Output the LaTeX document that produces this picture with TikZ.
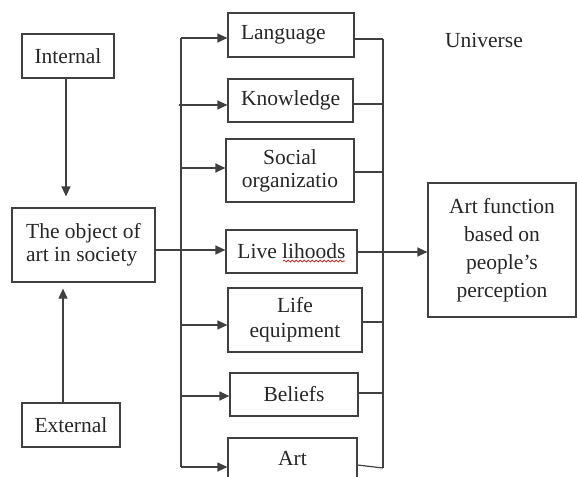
\documentclass[tikz,border=0pt]{standalone}
\usepackage{fontspec}
\setmainfont{Liberation Serif}
\usetikzlibrary{arrows.meta,decorations.pathmorphing,calc}
\begin{document}
\begin{tikzpicture}[x=1pt,y=-1pt,
  line width=1.2pt,
  every node/.style={font=\fontsize{21.5}{23}\selectfont, text=black!85, inner sep=0pt},
  box/.style={draw=black!75, line width=1.2pt, minimum width=#1},
  conn/.style={draw=black!75, line width=1.2pt},
  arr/.style={conn, -{Triangle[length=10pt,width=9pt]}}
]
\useasboundingbox (0,0) rectangle (577,476);
\clip (0,0) rectangle (577,476);

% left column
\node[box=92pt, minimum height=44pt] (int) at (68,56) {Internal};
\node[box=143pt, minimum height=74pt, align=left] (obj) at (83.5,245) {The object of\\art in society};
\node[box=98pt, minimum height=44pt] (ext) at (71,425) {External};

% middle column
\node[box=126pt, minimum height=44pt, text width=100pt, align=left] (lang) at (291,35) {Language};
\node[box=125pt, minimum height=43pt, text width=99pt, align=left] (know) at (290.5,100.5) {Knowledge};
\node[box=128pt, minimum height=63pt, align=center] (soc) at (290,170.5) {Social\\organizatio};
\node[box=131pt, minimum height=43pt] (live) at (291.5,251.5) {Live lihoods};
\node[box=134pt, minimum height=64pt, align=center, font=\fontsize{21.5}{25}\selectfont] (life) at (295,320) {Life\\equipment};
\node[box=128pt, minimum height=43pt] (bel) at (294,394.5) {Beliefs};
\node[box=129pt, minimum height=44pt, text depth=0pt] (art) at (292.5,460) {};
\node at (292.5,459) {Art};

% right column
\node[box=148pt, minimum height=134pt, align=center, font=\fontsize{21.5}{28}\selectfont] (func) at (502,250) {Art function\\based on\\people's\\perception};
\node (uni) at (484,40) {Universe};

% spell-check underline
\draw[red!85!black, line width=0.7pt, decorate, decoration={snake, amplitude=1pt, segment length=4pt}]
  (283,261) -- (345,261);

% buses
\coordinate (lt) at (181,38);
\coordinate (lb) at (181,467);
\coordinate (rt) at (383,39);
\coordinate (rb) at (383,468);
\draw[conn] (lt) -- (lb);
\draw[conn] (rt) -- (rb);

% vertical arrows into the object box
\draw[arr, shorten >=11pt] (int.south -| 66,0) -- (obj.north -| 66,0);
\draw[arr, shorten >=6pt] (ext.north -| 63,0) -- (obj.south -| 63,0);

% object to live lihoods
\draw[arr] (obj.east |- 0,250) -- (live.west |- 0,250);

% left bus arrows
\draw[arr] (lt) -- (lang.west |- lt);
\draw[arr] ($(lt|-0,105)+(-2,0)$) -- (know.west |- 0,105);
\draw[arr] (lt|-0,168) -- (soc.west |- 0,168);
\draw[arr] (lt|-0,325) -- (life.west |- 0,325);
\draw[arr] (lt|-0,396) -- (bel.west |- 0,396);
\draw[arr] (lb) -- (art.west |- lb);

% right bus links
\draw[conn] (lang.east |- rt) -- (rt);
\draw[conn] (know.east |- 0,104) -- (rt|-0,104);
\draw[conn] (soc.east |- 0,172) -- (rt|-0,172);
\draw[conn] (life.east |- 0,322) -- (rt|-0,322);
\draw[conn] (bel.east |- 0,393) -- (rt|-0,393);
\draw[conn] (art.east |- 0,465) -- (rb);

% live lihoods to art function
\draw[arr] (live.east |- 0,252) -- (func.west |- 0,252);
\end{tikzpicture}
\end{document}
